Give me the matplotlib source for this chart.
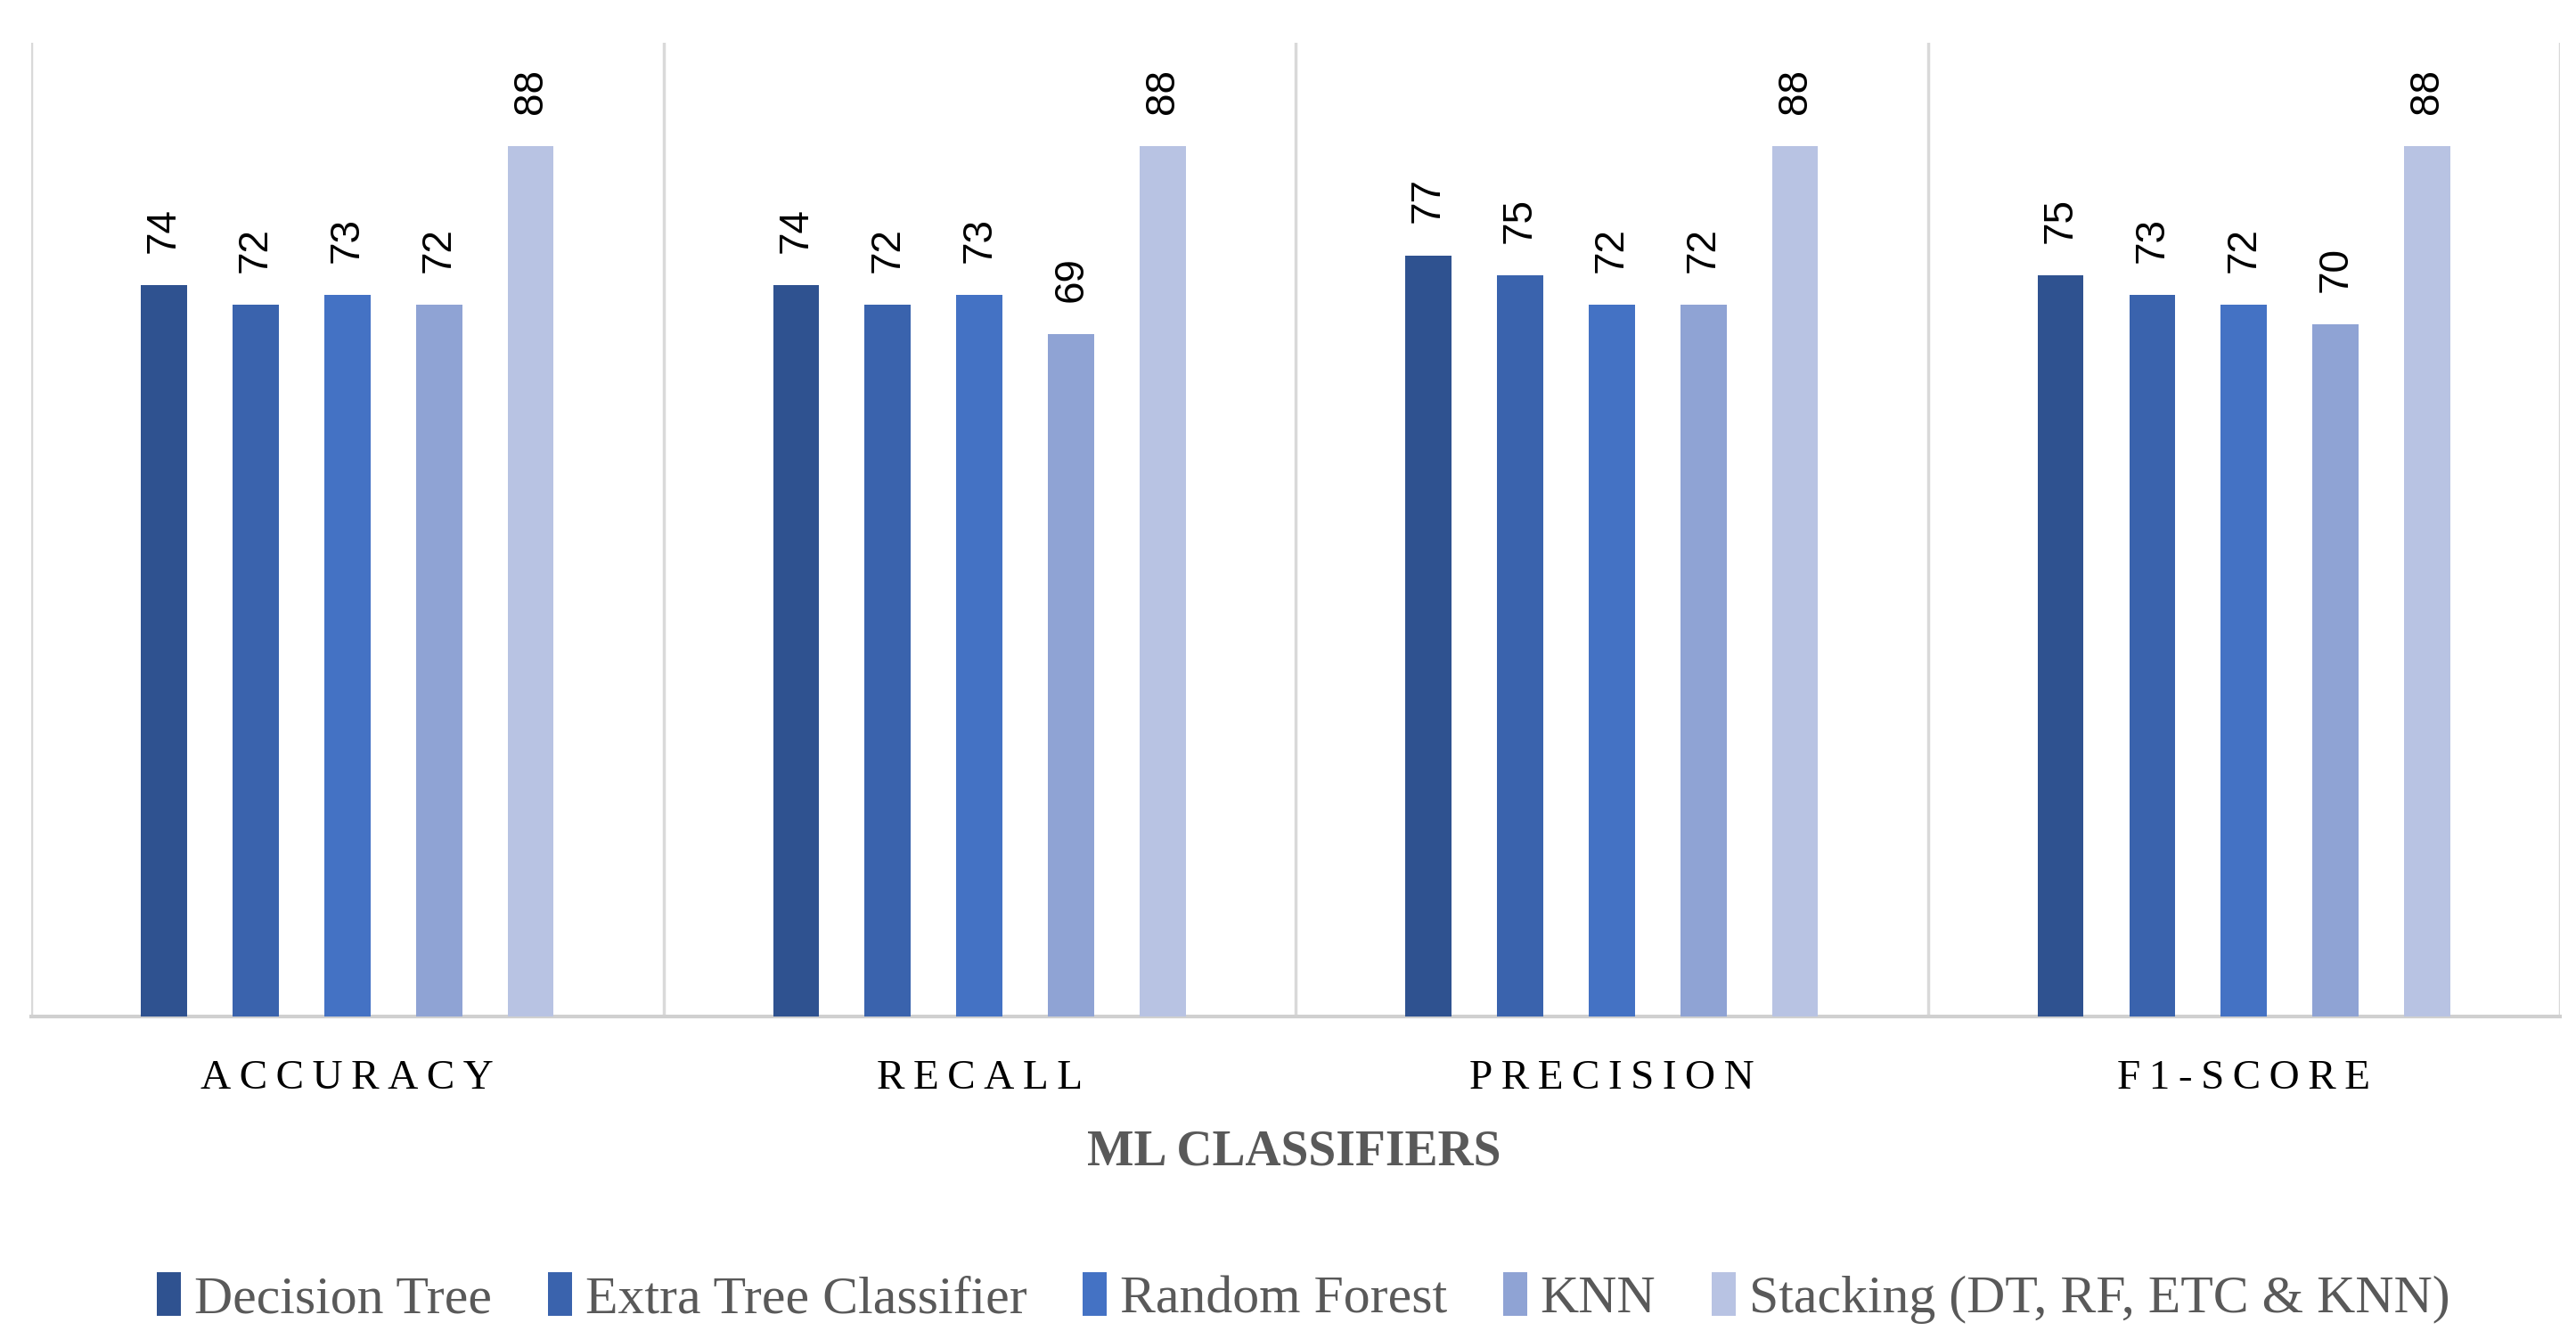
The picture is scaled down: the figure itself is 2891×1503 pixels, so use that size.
import numpy as np
import matplotlib
matplotlib.use('Agg')
import matplotlib.pyplot as plt

# Chart data
metrics = ['ACCURACY', 'RECALL', 'PRECISION', 'F1-SCORE']
models = ['Decision Tree', 'Extra Tree Classifier', 'Random Forest', 'KNN',
          'Stacking (DT, RF, ETC & KNN)']
decision_tree = [74, 74, 77, 75]
extra_tree = [72, 72, 75, 73]
random_forest = [73, 73, 72, 72]
knn = [72, 69, 72, 70]
stacking = [88, 88, 88, 88]

colors = ['#2F5290', '#3A63AD', '#4472C4', '#8FA3D4', '#B8C3E3']
series = [decision_tree, extra_tree, random_forest, knn, stacking]

fig = plt.figure(figsize=(28.91, 15.03), dpi=100)
ax = fig.add_axes([0.0121, 0.2408, 0.9817, 0.7273])

x = np.arange(len(metrics))
step = 0.145
width = 0.073
for i, (vals, col, name) in enumerate(zip(series, colors, models)):
    pos = x + (i - 2) * step
    bars = ax.bar(pos, vals, width, color=col, label=name, zorder=3)
    for b, v in zip(bars, vals):
        ax.annotate(str(v), (b.get_x() + b.get_width() / 2, v),
                    xytext=(0, 26), textcoords='offset points',
                    rotation=90, ha='center', va='bottom',
                    fontsize=33, family='Liberation Sans', color='black')

ax.set_xlim(-0.5, 3.5)
ax.set_ylim(0, 98.5)
ax.set_yticks([])

# separators between groups
for b in np.arange(-0.5, 4.0, 1.0):
    ax.axvline(b, color='#D9D9D9', lw=2.5, zorder=1)

for s in ['top', 'left', 'right']:
    ax.spines[s].set_visible(False)
ax.spines['bottom'].set_color('#D0D0D0')
ax.spines['bottom'].set_linewidth(3)

# letter-spaced category labels
thin = '\u2009'
ax.set_xticks(x)
ax.set_xticklabels([thin.join(m) for m in metrics], fontsize=34,
                   family='Liberation Serif', color='black')
ax.tick_params(axis='x', length=0, pad=35)

fig.text(0.5025, 1 - 1293 / 1503, 'ML CLASSIFIERS', ha='center', va='center',
         fontsize=40, fontweight='bold', family='Liberation Serif',
         color='#595959')

leg = fig.legend(loc='center', bbox_to_anchor=(0.506, 1 - 1457 / 1503),
                 ncol=5, frameon=False, handlelength=0.45, handleheight=0.9,
                 handletextpad=0.25, columnspacing=1.05,
                 prop={'family': 'Liberation Serif', 'size': 43})
for t in leg.get_texts():
    t.set_color('#595959')

fig.savefig('out.png', dpi=100)
